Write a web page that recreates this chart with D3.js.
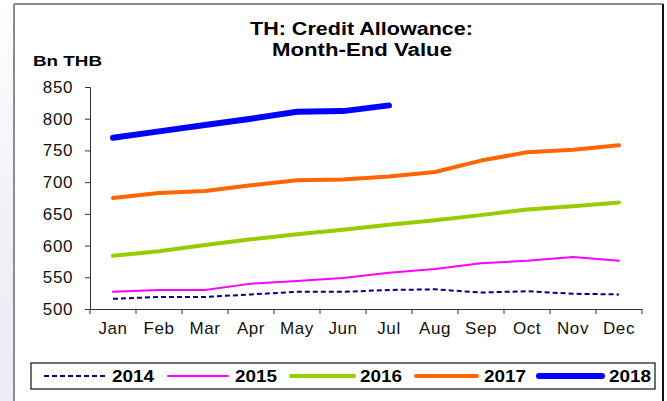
<!DOCTYPE html>
<html>
<head>
<meta charset="utf-8">
<script src="https://cdn.jsdelivr.net/npm/d3@7"></script>
<style>
  body { margin: 0; background: #fff; }
  svg { display: block; font-family: "Liberation Sans", Arial, sans-serif; }
</style>
</head>
<body>
<div id="chart"></div>
<script>
let months = ["Jan", "Feb", "Mar", "Apr", "May", "Jun", "Jul", "Aug", "Sep", "Oct", "Nov", "Dec"];
let yTicks = [500, 550, 600, 650, 700, 750, 800, 850];

let v2014 = [516, 519, 519, 523, 527, 527, 530, 531, 526, 528, 524, 523];
let v2015 = [527, 530, 530, 540, 544, 549, 557, 563, 572, 576, 582, 576];
let v2016 = [584, 591, 601, 610, 618, 625, 633, 640, 648, 657, 662, 668];
let v2017 = [675, 683, 686, 695, 703, 704, 709, 716, 734, 747, 751, 758];
let v2018 = [770, 780, 790, 800, 811, 812, 821];

let series = [
  { name: "2014", values: v2014, color: "#000080", width: 2, dash: "5,3" },
  { name: "2015", values: v2015, color: "#ff00ff", width: 2, dash: null },
  { name: "2016", values: v2016, color: "#99cc00", width: 4, dash: null },
  { name: "2017", values: v2017, color: "#ff6600", width: 4, dash: null },
  { name: "2018", values: v2018, color: "#0000ff", width: 6, dash: null }
];

let W = 667, H = 401;
let margin = { top: 87, left: 90, right: 25, bottom: 91 };

let svg = d3.select("#chart").append("svg")
  .attr("width", W)
  .attr("height", H);

// lavender strip on the left, outside the frame
let grad = svg.append("defs").append("linearGradient")
  .attr("id", "lav").attr("x1", 0).attr("y1", 0).attr("x2", 0).attr("y2", 1);
grad.append("stop").attr("offset", "0%").attr("stop-color", "#ffffff");
grad.append("stop").attr("offset", "55%").attr("stop-color", "#f0f0f8");
grad.append("stop").attr("offset", "100%").attr("stop-color", "#ececf7");
svg.append("rect").attr("x", 0).attr("y", 0).attr("width", 14).attr("height", H).attr("fill", "url(#lav)");

// frame
svg.append("line").attr("x1", 14).attr("x2", 663).attr("y1", 4).attr("y2", 4)
  .attr("stroke", "#8c8c8c").attr("stroke-width", 2);
svg.append("line").attr("x1", 14).attr("x2", 14).attr("y1", 4).attr("y2", H)
  .attr("stroke", "#8c8c8c").attr("stroke-width", 2);
svg.append("line").attr("x1", 663).attr("x2", 663).attr("y1", 4).attr("y2", H)
  .attr("stroke", "#111").attr("stroke-width", 2);

// titles (the original text is a bit wider than Arial, so stretch it)
svg.append("text").attr("x", 250).attr("y", 35)
  .attr("font-size", 18).attr("font-weight", "bold")
  .attr("textLength", 223).attr("lengthAdjust", "spacingAndGlyphs")
  .text("TH: Credit Allowance:");
svg.append("text").attr("x", 272).attr("y", 56)
  .attr("font-size", 18).attr("font-weight", "bold")
  .attr("textLength", 180).attr("lengthAdjust", "spacingAndGlyphs")
  .text("Month-End Value");
svg.append("text").attr("x", 33).attr("y", 66)
  .attr("font-size", 15).attr("font-weight", "bold")
  .attr("textLength", 69).attr("lengthAdjust", "spacingAndGlyphs")
  .text("Bn THB");

let x = d3.scaleBand().domain(months).range([margin.left, W - margin.right]);
let y = d3.scaleLinear().domain([500, 850]).range([H - margin.bottom - 1, margin.top]);

// axes
let yAxis = svg.append("g")
  .attr("transform", `translate(${margin.left},0)`)
  .call(d3.axisLeft(y).tickValues(yTicks).tickSize(5).tickPadding(12).tickFormat(d3.format("d")));
let xAxis = svg.append("g")
  .attr("transform", `translate(0,${y(500)})`)
  .call(d3.axisBottom(x).tickSize(0).tickPadding(13));

// tick marks at band boundaries
xAxis.selectAll(".bound")
  .data(d3.range(months.length + 1))
  .join("line")
  .attr("class", "bound")
  .attr("x1", i => margin.left + i * x.step())
  .attr("x2", i => margin.left + i * x.step())
  .attr("y1", 0).attr("y2", 5)
  .attr("stroke", "#333");

[yAxis, xAxis].forEach(g => {
  g.select(".domain").attr("stroke", "#333");
  g.selectAll(".tick line").attr("stroke", "#333");
  g.selectAll("text").attr("font-size", 17).attr("fill", "#111")
    .attr("letter-spacing", 0.6)
    .attr("font-family", "'Liberation Sans', Arial, sans-serif");
});

// lines
let line = d3.line()
  .x((d, i) => x(months[i]) + x.bandwidth() / 2)
  .y(d => y(d));

svg.append("g").selectAll("path")
  .data(series)
  .join("path")
  .attr("d", d => line(d.values))
  .attr("fill", "none")
  .attr("stroke", d => d.color)
  .attr("stroke-width", d => d.width)
  .attr("stroke-dasharray", d => d.dash)
  .attr("stroke-linecap", d => d.dash ? "butt" : "round")
  .attr("stroke-linejoin", "round");

// legend
svg.append("rect").attr("x", 31).attr("y", 363).attr("width", 624).attr("height", 26)
  .attr("fill", "#fff").attr("stroke", "#111").attr("stroke-width", 1.2);

let legendLine = [[44, 105], [168, 228], [291, 354], [416, 477], [539, 602]];
let legendText = [112, 235, 360, 484, 609];
let leg = svg.append("g").selectAll("g")
  .data(series)
  .join("g");
leg.append("line")
  .attr("x1", (d, i) => legendLine[i][0]).attr("x2", (d, i) => legendLine[i][1])
  .attr("y1", 376).attr("y2", 376)
  .attr("stroke", d => d.color)
  .attr("stroke-width", d => d.width)
  .attr("stroke-dasharray", d => d.dash)
  .attr("stroke-linecap", d => d.dash ? "butt" : "round");
leg.append("text")
  .attr("x", (d, i) => legendText[i]).attr("y", 382)
  .attr("font-size", 16).attr("font-weight", "bold")
  .attr("textLength", 42).attr("lengthAdjust", "spacingAndGlyphs")
  .text(d => d.name);
</script>
</body>
</html>
